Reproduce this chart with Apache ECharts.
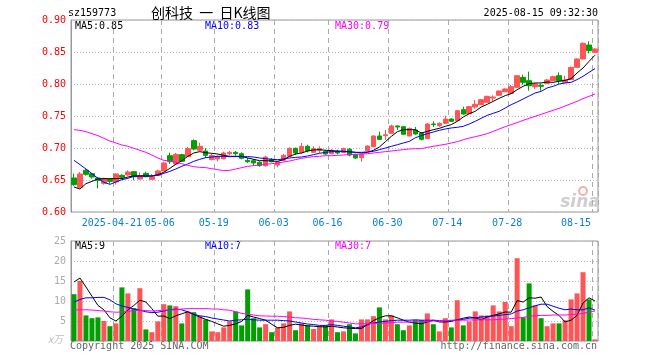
<!DOCTYPE html>
<html><head><meta charset="utf-8">
<script src="https://cdn.jsdelivr.net/npm/echarts@6/dist/echarts.min.js"></script>
<style>html,body{margin:0;padding:0;background:#fff}#c{width:660px;height:360px}</style>
</head><body><div id="c"></div>
<script>
const dates = ['2025-04-10','2025-04-11','2025-04-14','2025-04-15','2025-04-16','2025-04-17','2025-04-18','2025-04-21','2025-04-22','2025-04-23',
'2025-04-24','2025-04-25','2025-04-28','2025-04-29','2025-04-30','2025-05-06','2025-05-07','2025-05-08','2025-05-09','2025-05-12',
'2025-05-13','2025-05-14','2025-05-15','2025-05-16','2025-05-19','2025-05-20','2025-05-21','2025-05-22','2025-05-23','2025-05-26',
'2025-05-27','2025-05-28','2025-05-29','2025-05-30','2025-06-03','2025-06-04','2025-06-05','2025-06-06','2025-06-09','2025-06-10',
'2025-06-11','2025-06-12','2025-06-13','2025-06-16','2025-06-17','2025-06-18','2025-06-19','2025-06-20','2025-06-23','2025-06-24',
'2025-06-25','2025-06-26','2025-06-27','2025-06-30','2025-07-01','2025-07-02','2025-07-03','2025-07-04','2025-07-07','2025-07-08',
'2025-07-09','2025-07-10','2025-07-11','2025-07-14','2025-07-15','2025-07-16','2025-07-17','2025-07-18','2025-07-21','2025-07-22',
'2025-07-23','2025-07-24','2025-07-25','2025-07-28','2025-07-29','2025-07-30','2025-07-31','2025-08-01','2025-08-04','2025-08-05',
'2025-08-06','2025-08-07','2025-08-08','2025-08-11','2025-08-12','2025-08-13','2025-08-14','2025-08-15'];

const opens = [0.6531,0.6385,0.6651,0.6599,0.6531,0.6448,0.6510,0.6469,0.6573,0.6578,
0.6630,0.6516,0.6604,0.6510,0.6573,0.6641,0.6880,0.6750,0.6896,0.6865,
0.7115,0.6964,0.6953,0.6818,0.6828,0.6833,0.6911,0.6932,0.6911,0.6807,
0.6802,0.6776,0.6724,0.6823,0.6734,0.6807,0.6870,0.6995,0.6932,0.7026,
0.6932,0.6964,0.6948,0.6911,0.6948,0.6932,0.6980,0.6896,0.6849,0.6958,
0.7021,0.7188,0.7193,0.7229,0.7344,0.7333,0.7188,0.7281,0.7229,0.7146,
0.7375,0.7349,0.7385,0.7453,0.7427,0.7599,0.7536,0.7641,0.7677,0.7714,
0.7781,0.7823,0.7880,0.7854,0.7948,0.8104,0.8052,0.7958,0.7979,0.8010,
0.8052,0.8130,0.8026,0.8068,0.8260,0.8391,0.8609,0.8495];
const closes = [0.6427,0.6594,0.6589,0.6547,0.6495,0.6521,0.6479,0.6594,0.6542,0.6625,
0.6552,0.6568,0.6552,0.6552,0.6641,0.6766,0.6786,0.6901,0.6792,0.6990,
0.6984,0.7026,0.6885,0.6885,0.6870,0.6922,0.6932,0.6911,0.6839,0.6786,
0.6766,0.6724,0.6859,0.6786,0.6786,0.6885,0.6995,0.6922,0.7026,0.6958,
0.6990,0.6990,0.6906,0.6964,0.6922,0.6990,0.6890,0.6844,0.6901,0.7031,
0.7188,0.7135,0.7208,0.7344,0.7328,0.7214,0.7307,0.7219,0.7135,0.7375,
0.7365,0.7385,0.7453,0.7417,0.7583,0.7531,0.7646,0.7682,0.7755,0.7807,
0.7797,0.7891,0.7922,0.7958,0.8130,0.8026,0.7974,0.8000,0.7964,0.8063,
0.8115,0.8052,0.8063,0.8260,0.8391,0.8635,0.8521,0.8547];
const lows = [0.6411,0.6375,0.6568,0.6521,0.6370,0.6427,0.6443,0.6427,0.6516,0.6568,
0.6495,0.6505,0.6542,0.6500,0.6568,0.6635,0.6750,0.6734,0.6781,0.6859,
0.6964,0.6958,0.6844,0.6807,0.6792,0.6823,0.6885,0.6880,0.6823,0.6766,
0.6724,0.6708,0.6708,0.6776,0.6698,0.6792,0.6859,0.6891,0.6911,0.6932,
0.6922,0.6922,0.6891,0.6901,0.6901,0.6922,0.6870,0.6828,0.6786,0.6953,
0.7010,0.7125,0.7125,0.7224,0.7281,0.7208,0.7182,0.7208,0.7120,0.7140,
0.7328,0.7328,0.7375,0.7406,0.7422,0.7521,0.7531,0.7615,0.7672,0.7708,
0.7729,0.7818,0.7870,0.7849,0.7938,0.7990,0.7896,0.7922,0.7896,0.8000,
0.8047,0.8000,0.8010,0.8063,0.8255,0.8380,0.8479,0.8490];
const highs = [0.6599,0.6625,0.6672,0.6609,0.6547,0.6536,0.6521,0.6604,0.6589,0.6651,
0.6635,0.6620,0.6630,0.6594,0.6661,0.6781,0.6927,0.6922,0.6911,0.7016,
0.7135,0.7083,0.7000,0.6906,0.6880,0.6943,0.6953,0.6953,0.6932,0.6844,
0.6828,0.6792,0.6880,0.6844,0.6797,0.6906,0.7010,0.7005,0.7078,0.7052,
0.7026,0.7026,0.6964,0.6984,0.6974,0.7005,0.7000,0.6911,0.6911,0.7042,
0.7198,0.7255,0.7281,0.7365,0.7349,0.7344,0.7318,0.7328,0.7250,0.7390,
0.7417,0.7401,0.7505,0.7464,0.7594,0.7646,0.7656,0.7750,0.7766,0.7818,
0.7823,0.7896,0.7932,0.7984,0.8141,0.8146,0.8193,0.8016,0.8005,0.8078,
0.8130,0.8182,0.8130,0.8270,0.8401,0.8651,0.8667,0.8557];

const ma5 = [0.6391,0.6359,0.6443,0.6479,0.6516,0.6521,0.6521,0.6521,0.6521,0.6547,
0.6563,0.6563,0.6563,0.6563,0.6583,0.6620,0.6682,0.6745,0.6802,0.6870,
0.6922,0.6943,0.6927,0.6917,0.6906,0.6885,0.6870,0.6870,0.6870,0.6844,
0.6823,0.6802,0.6802,0.6797,0.6792,0.6818,0.6870,0.6906,0.6922,0.6953,
0.6969,0.6974,0.6964,0.6958,0.6953,0.6948,0.6943,0.6932,0.6922,0.6932,
0.6964,0.7016,0.7099,0.7182,0.7255,0.7286,0.7286,0.7286,0.7234,0.7260,
0.7286,0.7307,0.7339,0.7365,0.7417,0.7484,0.7536,0.7573,0.7641,0.7682,
0.7729,0.7776,0.7818,0.7849,0.7911,0.7964,0.8005,0.8016,0.8016,0.8031,
0.8026,0.8042,0.8057,0.8083,0.8172,0.8250,0.8354,0.8450];
const ma10 = [0.6807,0.6740,0.6672,0.6599,0.6526,0.6464,0.6432,0.6469,0.6505,0.6526,
0.6557,0.6563,0.6563,0.6563,0.6573,0.6604,0.6635,0.6672,0.6714,0.6750,
0.6792,0.6823,0.6849,0.6859,0.6870,0.6870,0.6865,0.6865,0.6865,0.6865,
0.6859,0.6844,0.6833,0.6823,0.6818,0.6828,0.6844,0.6854,0.6859,0.6875,
0.6896,0.6917,0.6932,0.6943,0.6943,0.6943,0.6938,0.6932,0.6932,0.6938,
0.6948,0.6974,0.7000,0.7026,0.7052,0.7078,0.7104,0.7160,0.7193,0.7224,
0.7250,0.7276,0.7297,0.7313,0.7323,0.7339,0.7375,0.7417,0.7464,0.7510,
0.7542,0.7573,0.7625,0.7677,0.7719,0.7766,0.7813,0.7859,0.7885,0.7938,
0.7964,0.8000,0.8016,0.8026,0.8068,0.8120,0.8182,0.8240];
const ma30 = [0.7286,0.7276,0.7255,0.7224,0.7193,0.7151,0.7109,0.7078,0.7047,0.7026,
0.6995,0.6964,0.6932,0.6891,0.6844,0.6807,0.6797,0.6776,0.6755,0.6729,
0.6708,0.6698,0.6693,0.6677,0.6661,0.6646,0.6651,0.6672,0.6693,0.6714,
0.6724,0.6734,0.6745,0.6755,0.6766,0.6781,0.6797,0.6818,0.6839,0.6854,
0.6865,0.6870,0.6880,0.6880,0.6885,0.6891,0.6896,0.6901,0.6906,0.6911,
0.6922,0.6932,0.6943,0.6953,0.6964,0.6974,0.6984,0.6990,0.6990,0.7010,
0.7026,0.7042,0.7057,0.7078,0.7099,0.7130,0.7156,0.7177,0.7198,0.7224,
0.7260,0.7297,0.7333,0.7365,0.7396,0.7432,0.7464,0.7495,0.7526,0.7557,
0.7589,0.7620,0.7656,0.7693,0.7729,0.7771,0.7807,0.7844];

const volumes = [11.7,15.0,6.4,5.7,5.9,5.0,3.7,4.4,13.4,11.9,
8.2,13.2,2.9,2.2,4.9,9.2,8.9,8.7,4.4,7.4,
7.2,6.2,5.4,2.4,2.2,3.4,4.9,7.4,3.9,12.9,
5.7,3.4,4.2,2.2,3.4,4.4,7.4,2.7,4.4,3.9,
3.0,3.7,3.9,5.4,2.2,2.4,4.2,1.9,5.4,5.4,
6.2,8.4,5.4,6.4,4.2,2.7,3.9,5.2,5.2,6.9,
4.2,2.4,5.7,3.4,10.2,3.9,4.9,7.4,6.4,6.4,
8.9,7.4,9.75,3.7,20.7,5.9,14.4,8.9,5.7,3.7,
4.4,4.4,5.2,10.4,11.9,17.2,10.4,0.4];
const volMa5 = [14.75,15.75,13.5,11.2,8.9,7.8,5.8,5.0,6.2,7.8,
8.9,10.2,9.75,8.1,6.2,6.25,5.6,6.3,6.8,7.3,
6.6,6.0,5.4,4.9,4.3,3.7,3.9,4.3,4.9,6.4,
6.0,5.6,5.2,4.2,3.3,3.4,3.9,4.2,4.0,3.8,
3.7,3.6,3.5,3.7,3.5,3.3,3.2,3.1,3.1,4.1,
5.1,5.8,6.3,6.3,5.8,5.2,4.7,4.5,4.3,4.75,
5.2,4.75,4.75,4.9,5.3,5.7,6.0,5.8,5.3,6.0,
6.4,6.8,7.25,7.2,10.1,9.75,10.8,10.7,11.0,8.6,
7.4,6.4,4.75,5.2,6.4,9.5,10.8,10.0];
const volMa10 = [9.7,10.4,10.8,10.8,10.9,10.9,10.3,9.3,8.75,8.4,
8.0,7.7,7.3,7.1,7.2,7.5,7.8,8.0,7.8,7.3,
6.7,6.3,6.1,5.75,5.5,5.25,5.0,5.2,5.3,5.4,
5.3,5.2,5.2,5.2,5.2,5.1,5.0,4.75,4.5,4.25,
4.1,3.9,3.9,4.1,3.9,3.7,3.5,3.3,3.5,4.1,
4.5,4.75,4.9,5.1,5.2,5.2,5.2,5.3,5.2,5.2,
5.2,5.1,5.0,5.1,5.25,5.4,5.7,5.8,6.0,6.1,
6.25,6.4,6.6,6.75,7.5,7.8,8.3,8.8,9.2,9.2,
8.7,8.2,7.8,8.0,7.8,7.8,8.3,7.7];
const volMa30 = [7.75,7.8,7.8,7.75,7.6,7.5,7.3,7.2,7.25,7.4,
7.6,7.7,7.6,7.5,7.6,7.7,7.75,7.8,8.0,8.1,
8.1,8.1,8.1,8.0,8.0,7.8,7.7,7.3,6.9,6.7,
6.5,6.3,6.25,6.2,6.2,6.1,6.0,5.8,5.75,5.6,
5.4,5.3,5.2,5.0,4.9,4.7,4.5,4.3,4.3,4.3,
4.4,4.4,4.5,4.6,4.7,4.7,4.75,4.8,4.8,4.9,
5.0,5.0,5.1,5.2,5.2,5.2,5.25,5.25,5.3,5.3,
5.3,5.4,5.5,5.6,5.75,5.9,6.2,6.3,6.4,6.4,
6.5,6.5,6.5,6.6,6.7,6.9,7.25,7.5];

const tickDates = ['2025-04-21','2025-05-06','2025-05-19','2025-06-03','2025-06-16','2025-06-30','2025-07-14','2025-07-28','2025-08-15'];
const tickLabels = ['2025-04-21','05-06','05-19','06-03','06-16','06-30','07-14','07-28','08-15'];
const priceTicks = [0.60, 0.65, 0.70, 0.75, 0.80, 0.85, 0.90];
const volTicks = [0, 5, 10, 15, 20, 25];
const priceMaTexts = ['MA5:0.85', 'MA10:0.83', 'MA30:0.79'];
const volMaTexts = ['MA5:9', 'MA10:7', 'MA30:7'];
const headerTexts = ['sz159773', '创科技  一  日K线图', '2025-08-15 09:32:30'];
const footerTexts = ['Copyright 2025 SINA.COM', 'http://finance.sina.com.cn', 'x万'];

const RED = '#ff5555', GREEN = '#00a000';
const MONO = 'DejaVu Sans Mono';
const candleData = opens.map((o, i) => [o, closes[i], lows[i], highs[i]]);
const volData = volumes.map((v, i) => ({value: v, itemStyle: {color: closes[i] >= opens[i] ? RED : GREEN}}));
const isTick = (idx, val) => tickDates.indexOf(val) >= 0;

const gridLineV = {show: true, interval: isTick, lineStyle: {color: '#aaa', type: [5, 4], width: 1}};
const gridLineH = {show: true, lineStyle: {color: '#bbb', type: [1, 2], width: 1}};

const chart = echarts.init(document.getElementById('c'), null, {renderer: 'canvas'});
const mono = (x, y, text, color, align, size) => ({type: 'text', x: x, y: y, silent: true,
  style: {text: text, fill: color, font: (size || 10) + 'px "' + MONO + '"', textAlign: align || 'left', textVerticalAlign: 'middle'}});

chart.setOption({
  animation: false,
  backgroundColor: '#fff',
  grid: [
    {left: 71, right: 62, top: 20, height: 192, show: true, borderColor: '#999', borderWidth: 1},
    {left: 71, right: 62, top: 241, height: 100, show: true, borderColor: '#999', borderWidth: 1}
  ],
  xAxis: [
    {type: 'category', gridIndex: 0, data: dates, boundaryGap: true,
     axisLine: {show: false}, axisTick: {show: false}, splitLine: gridLineV,
     axisLabel: {show: true, interval: isTick, color: '#0a7ed8', fontFamily: MONO, fontSize: 10, margin: 6,
       padding: [0, 8, 0, 0],
       formatter: function (v) { const i = tickDates.indexOf(v); const t = tickLabels[i];
         return i === tickDates.length - 1 ? '{l|' + t + '}' : t; },
       rich: {l: {padding: [0, 30, 0, 0], color: '#0a7ed8', fontFamily: MONO, fontSize: 10}}}},
    {type: 'category', gridIndex: 1, data: dates, boundaryGap: true,
     axisLine: {show: false}, axisTick: {show: false}, axisLabel: {show: false}, splitLine: gridLineV}
  ],
  yAxis: [
    {type: 'value', gridIndex: 0, min: priceTicks[0], max: priceTicks[priceTicks.length - 1], interval: 0.05,
     axisLine: {show: true, lineStyle: {color: '#999'}}, axisTick: {show: false}, splitLine: gridLineH,
     axisLabel: {color: '#f00', fontFamily: MONO, fontSize: 10, margin: 5, showMinLabel: true, showMaxLabel: true,
       formatter: v => v.toFixed(2)}},
    {type: 'value', gridIndex: 1, min: volTicks[0], max: volTicks[volTicks.length - 1], interval: 5,
     axisLine: {show: true, lineStyle: {color: '#999'}}, axisTick: {show: false}, splitLine: gridLineH,
     axisLabel: {color: '#aaa', fontFamily: MONO, fontSize: 10, margin: 5, showMaxLabel: true,
       formatter: v => v === 0 ? '' : String(v)}}
  ],
  series: [
    {type: 'candlestick', xAxisIndex: 0, yAxisIndex: 0, data: candleData, barWidth: 5,
     itemStyle: {color: RED, color0: GREEN, borderColor: RED, borderColor0: GREEN, borderWidth: 1}},
    {type: 'line', xAxisIndex: 0, yAxisIndex: 0, data: ma5, symbol: 'none', lineStyle: {color: '#000', width: 1}},
    {type: 'line', xAxisIndex: 0, yAxisIndex: 0, data: ma10, symbol: 'none', lineStyle: {color: '#0000ff', width: 1}},
    {type: 'line', xAxisIndex: 0, yAxisIndex: 0, data: ma30, symbol: 'none', lineStyle: {color: '#ff00ff', width: 1}},
    {type: 'bar', xAxisIndex: 1, yAxisIndex: 1, data: volData, barWidth: 5},
    {type: 'line', xAxisIndex: 1, yAxisIndex: 1, data: volMa5, symbol: 'none', lineStyle: {color: '#000', width: 1}, z: 5},
    {type: 'line', xAxisIndex: 1, yAxisIndex: 1, data: volMa10, symbol: 'none', lineStyle: {color: '#0000ff', width: 1}, z: 5},
    {type: 'line', xAxisIndex: 1, yAxisIndex: 1, data: volMa30, symbol: 'none', lineStyle: {color: '#ff00ff', width: 1}, z: 5}
  ],
  graphic: [
    mono(68, 13, headerTexts[0], '#000'),
    {type: 'text', x: 151, y: 13, silent: true,
     style: {text: headerTexts[1], fill: '#000', font: '14px "Noto Sans CJK SC"', textAlign: 'left', textVerticalAlign: 'middle'}},
    mono(598, 13, headerTexts[2], '#000', 'right'),
    mono(75, 26, priceMaTexts[0], '#000'),
    mono(205, 26, priceMaTexts[1], '#0000ff'),
    mono(335, 26, priceMaTexts[2], '#ff00ff'),
    mono(75, 246, volMaTexts[0], '#000'),
    mono(205, 246, volMaTexts[1], '#0000ff'),
    mono(335, 246, volMaTexts[2], '#ff00ff'),
    mono(70, 346, footerTexts[0], '#666'),
    mono(597, 346, footerTexts[1], '#666', 'right'),
    {type: 'text', x: 48, y: 339, silent: true,
     style: {text: footerTexts[2], fill: '#bbb', font: 'italic 10px "Noto Sans CJK SC"', textAlign: 'left', textVerticalAlign: 'middle'}},
    {type: 'circle', shape: {cx: 583, cy: 191, r: 4}, silent: true, style: {fill: 'none', stroke: '#f3b0b0', lineWidth: 2}},
    {type: 'text', x: 580, y: 203, silent: true,
     style: {text: 'sina', fill: '#cfcfcf', font: 'italic bold 17px "DejaVu Sans"', textAlign: 'center', textVerticalAlign: 'middle'}}
  ]
});
</script></body></html>
